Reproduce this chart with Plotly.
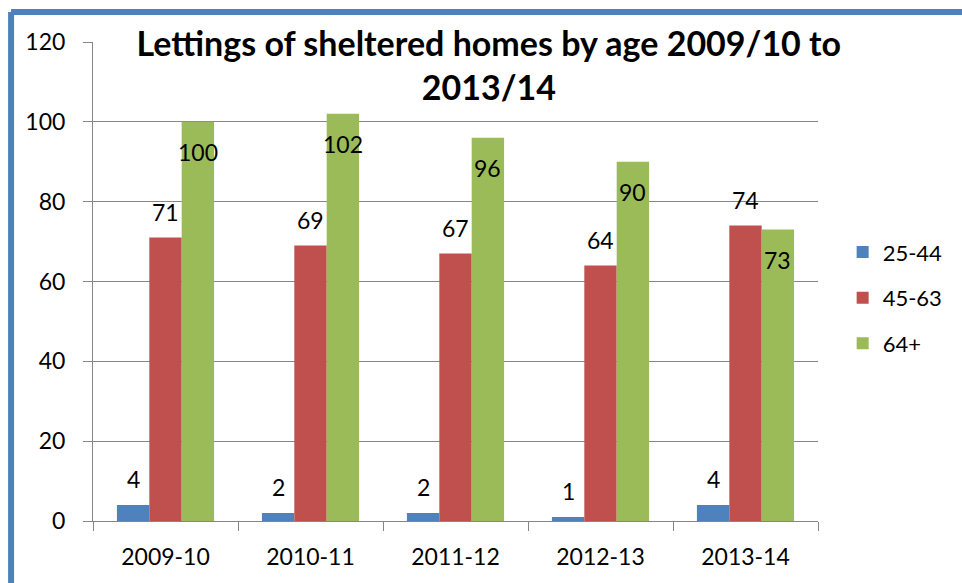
"""Lettings of sheltered homes by age, 2009/10 to 2013/14"""
import plotly.graph_objects as go

years = ["2009-10", "2010-11", "2011-12", "2012-13", "2013-14"]
age_groups = ["25-44", "45-63", "64+"]
lettings_25_44 = [4, 2, 2, 1, 4]
lettings_45_63 = [71, 69, 67, 64, 74]
lettings_64_plus = [100, 102, 96, 90, 73]
y_ticks = [0, 20, 40, 60, 80, 100, 120]

colours = ["#4F81BD", "#C0504D", "#9BBB59"]
FONT = "Lato, Calibri, sans-serif"
BAR_GAP = 0.33

series = [lettings_25_44, lettings_45_63, lettings_64_plus]

fig = go.Figure()
for k, (name, vals) in enumerate(zip(age_groups, series)):
    fig.add_trace(go.Bar(
        x=years, y=vals, name=name, legendgroup=name,
        marker=dict(color=colours[k], line=dict(width=0)),
    ))

# data labels: first two series above the bar, the last one inside the top
bar_w = (1 - BAR_GAP) / len(series)
annotations = []
for k, vals in enumerate(series):
    for j, v in enumerate(vals):
        annotations.append(dict(
            x=j + (k - 1) * bar_w, y=v, xref="x", yref="y",
            text=str(v), showarrow=False, yanchor="middle",
            yshift=-30 if k == 2 else 26,
            font=dict(family=FONT, size=23, color="#000000"),
        ))

fig.update_layout(
    width=962, height=583,
    margin=dict(l=93, r=144, t=42, b=62),
    paper_bgcolor="white", plot_bgcolor="white",
    barmode="group", bargap=BAR_GAP, bargroupgap=0,
    font=dict(family=FONT, size=23, color="#000000"),
    title=dict(
        text="<b>Lettings of sheltered homes by age 2009/10 to<br>2013/14</b>",
        x=0.546, xref="paper", xanchor="center",
        y=0.904, yref="container", yanchor="top",
        font=dict(family=FONT, size=34, color="#000000"),
    ),
    legend=dict(
        x=1.034, y=0.466, xanchor="left", yanchor="middle",
        font=dict(family=FONT, size=22, color="#000000"),
        tracegroupgap=14, bgcolor="rgba(0,0,0,0)",
    ),
    annotations=annotations,
    showlegend=True,
)
fig.update_xaxes(
    type="category",
    showline=True, linecolor="#868686", linewidth=1,
    ticks="outside", tickson="boundaries", ticklen=9, tickcolor="#868686",
    ticklabelstandoff=15, showgrid=False,
)
fig.update_yaxes(
    range=[0, 120], tickvals=y_ticks,
    showline=True, linecolor="#868686", linewidth=1,
    ticks="outside", ticklen=9, tickcolor="#868686", ticklabelstandoff=13,
    showgrid=True, gridcolor="#868686", gridwidth=1, zeroline=False,
)

# blue frame along the top and left edge of the picture
frame = dict(color="#4F81BD", width=6)
fig.add_shape(type="line", xref="paper", yref="paper",
              x0=-0.113, x1=1.25, y0=1.0626, y1=1.0626, line=frame)
fig.add_shape(type="line", xref="paper", yref="paper",
              x0=-0.113, x1=-0.113, y0=-0.2, y1=1.0626, line=frame)

fig.write_html("out.html", config={"displayModeBar": False},
               post_script="document.body.style.margin = '0';")
